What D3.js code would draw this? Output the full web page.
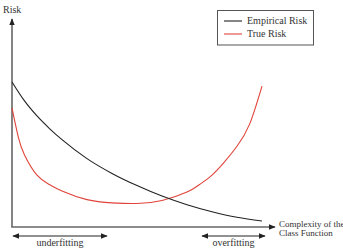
<!DOCTYPE html>
<html><head><meta charset="utf-8">
<script src="https://cdn.jsdelivr.net/npm/d3@7"></script>
<style>body{margin:0;background:#fff}svg{display:block}</style>
</head><body>
<script>
// Data (complexity 0..10, risk 0..10)
const empiricalX = [0, 0.5, 1, 1.5, 2, 3, 4, 5, 6, 7, 8, 9, 10];
const empiricalY = [7.04, 6.12, 5.39, 4.78, 4.24, 3.32, 2.60, 2.01, 1.50, 1.08, 0.74, 0.47, 0.29];
const trueX = [0, 0.25, 0.5, 1, 1.5, 2, 3, 4, 5, 6, 7, 7.5, 8, 8.5, 9, 9.5, 10];
const trueY = [5.78, 4.37, 3.50, 2.52, 2.06, 1.75, 1.33, 1.17, 1.14, 1.29, 1.70, 2.06, 2.52, 3.16, 3.92, 4.98, 6.84];
const seriesNames = ["Empirical Risk", "True Risk"];
const seriesColors = ["#222222", "#e0443a"];
const yLabel = "Risk";
const xLabelLines = ["Complexity of the", "Class Function"];
const regionLabels = ["underfitting", "overfitting"];

const W = 343, H = 252;
const FONT = '"Liberation Serif", "Times New Roman", serif';
const svg = d3.select("body").append("svg").attr("width", W).attr("height", H);
const x = d3.scaleLinear().domain([0, 10]).range([12, 262]);
const y = d3.scaleLinear().domain([0, 10]).range([227, 21]);
const axisColor = "#666";
const textColor = "#333";

const defs = svg.append("defs");
function marker(id, orient) {
  defs.append("marker").attr("id", id).attr("viewBox", "0 0 10 10")
    .attr("refX", 9).attr("refY", 5).attr("markerWidth", 7).attr("markerHeight", 7)
    .attr("markerUnits", "userSpaceOnUse").attr("orient", orient)
    .append("path").attr("d", "M0,1 L10,5 L0,9 Z").attr("fill", "#222");
}
marker("arrEnd", "auto");
marker("arrStart", "auto-start-reverse");

function txt(sel) { return sel.style("font-family", FONT).attr("fill", textColor); }

// axes
svg.append("line").attr("x1", x(0)).attr("y1", y(0)).attr("x2", x(0)).attr("y2", 19)
  .attr("stroke", axisColor).attr("stroke-width", 1.6).attr("marker-end", "url(#arrEnd)");
svg.append("line").attr("x1", x(0) - 0.8).attr("y1", y(0)).attr("x2", 275).attr("y2", y(0))
  .attr("stroke", axisColor).attr("stroke-width", 1.6).attr("marker-end", "url(#arrEnd)");

txt(svg.append("text").attr("x", 3).attr("y", 13).attr("font-size", 10)).text(yLabel);

// curves
const lineTrue = d3.line().x(d => x(d[0])).y(d => y(d[1])).curve(d3.curveNatural);
const lineEmp = d3.line().x(d => x(d[0])).y(d => y(d[1])).curve(d3.curveMonotoneX);
const emp = empiricalX.map((v, i) => [v, empiricalY[i]]);
const tru = trueX.map((v, i) => [v, trueY[i]]);
svg.append("path").datum(tru).attr("d", lineTrue).attr("fill", "none")
  .attr("stroke", seriesColors[1]).attr("stroke-width", 1.1);
svg.append("path").datum(emp).attr("d", lineEmp).attr("fill", "none")
  .attr("stroke", seriesColors[0]).attr("stroke-width", 1.1);

// x label
xLabelLines.forEach((t, i) => {
  txt(svg.append("text").attr("x", 279).attr("y", 227 + i * 9.3).attr("font-size", 9)).text(t);
});

// region arrows
const regions = [[13, 107, 60], [202, 265, 233.5]];
regions.forEach((r, i) => {
  svg.append("line").attr("x1", r[0]).attr("x2", r[1]).attr("y1", 236).attr("y2", 236)
    .attr("stroke", "#222").attr("stroke-width", 1.2)
    .attr("marker-start", "url(#arrStart)").attr("marker-end", "url(#arrEnd)");
  txt(svg.append("text").attr("x", r[2]).attr("y", 245.5).attr("text-anchor", "middle")
    .attr("font-size", 10)).text(regionLabels[i]);
});

// legend
const lg = svg.append("g");
lg.append("rect").attr("x", 217.5).attr("y", 10.5).attr("width", 96).attr("height", 34.5)
  .attr("fill", "#fff").attr("stroke", "#555").attr("stroke-width", 1);
seriesNames.forEach((n, i) => {
  const yy = 21 + i * 13;
  lg.append("line").attr("x1", 224).attr("x2", 242).attr("y1", yy).attr("y2", yy)
    .attr("stroke", seriesColors[i]).attr("stroke-width", 1.1);
  txt(lg.append("text").attr("x", 247).attr("y", yy + 3.3).attr("font-size", 10)).text(n);
});
</script>
</body></html>
